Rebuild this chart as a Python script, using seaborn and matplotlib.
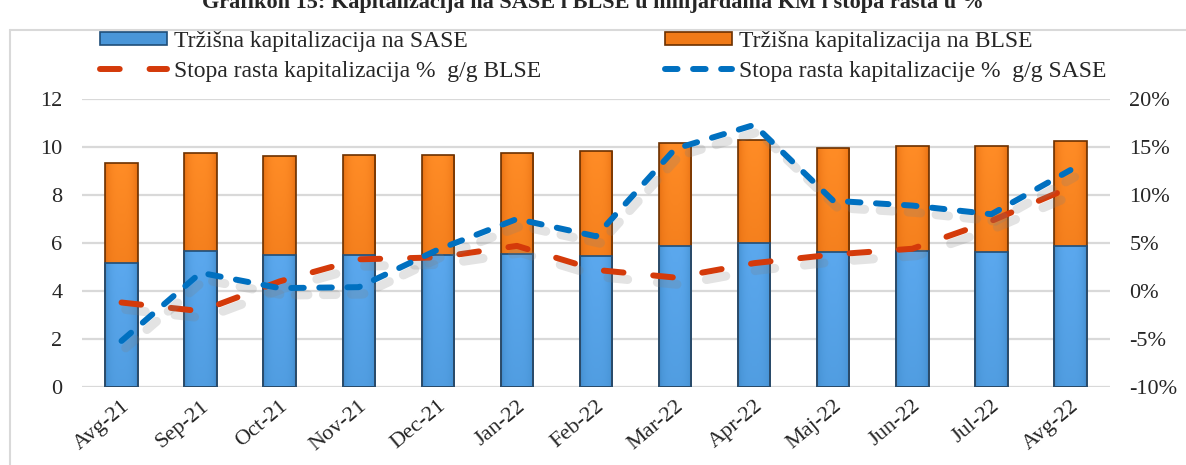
import numpy as np
import matplotlib
matplotlib.use("Agg")
import matplotlib.pyplot as plt
import matplotlib.patheffects as pe
from matplotlib.patches import Patch
from matplotlib.lines import Line2D
from matplotlib.ticker import FuncFormatter
from matplotlib.colors import LinearSegmentedColormap
import seaborn as sns

months = ["Avg-21", "Sep-21", "Oct-21", "Nov-21", "Dec-21", "Jan-22", "Feb-22",
          "Mar-22", "Apr-22", "Maj-22", "Jun-22", "Jul-22", "Avg-22"]
# trzisna kapitalizacija, milijarde KM
sase_cap = [5.18, 5.66, 5.52, 5.52, 5.49, 5.55, 5.45, 5.87, 6.01, 5.64, 5.66, 5.64, 5.87]
blse_cap = [4.15, 4.08, 4.09, 4.15, 4.18, 4.20, 4.37, 4.30, 4.27, 4.31, 4.39, 4.39, 4.39]
# stopa rasta g/g, %
blse_rate = [-1.2, -2.1, 1.0, 3.3, 3.5, 4.7, 2.2, 1.4, 2.9, 3.8, 4.4, 7.3, 10.8]
sase_rate = [-5.2, 1.9, 0.3, 0.4, 4.3, 7.5, 5.7, 14.8, 17.3, 9.4, 8.9, 8.0, 12.6]

title = "Grafikon 15: Kapitalizacija na SASE i BLSE u milijardama KM i stopa rasta u %"
lbl_sase = "Tržišna kapitalizacija na SASE"
lbl_blse = "Tržišna kapitalizacija na BLSE"
lbl_rate_blse = "Stopa rasta kapitalizacija %  g/g BLSE"
lbl_rate_sase = "Stopa rasta kapitalizacije %  g/g SASE"

BLUE, BLUE_EDGE = "#4A96D8", "#1F4E79"
ORANGE, ORANGE_EDGE = "#F07A18", "#6B3000"
RED_LINE = "#D43A0A"
BLUE_LINE = "#0070C0"
GRID = "#D9D9D9"

sns.set_theme(style="white")
plt.rcParams["font.family"] = ["Liberation Serif", "DejaVu Serif"]

W, H = 1186, 465
fig = plt.figure(figsize=(W / 100, H / 100), dpi=100)
fig.subplots_adjust(left=82 / W, right=1110 / W, bottom=1 - 387 / H, top=1 - 99 / H)
ax = fig.add_subplot(111)

totals = [s + b for s, b in zip(sase_cap, blse_cap)]
sns.barplot(x=months, y=totals, color=ORANGE, saturation=1, width=0.41,
            edgecolor=ORANGE_EDGE, linewidth=1.2, errorbar=None, ax=ax)
n_orange = len(ax.patches)
sns.barplot(x=months, y=sase_cap, color=BLUE, saturation=1, width=0.41,
            edgecolor=BLUE_EDGE, linewidth=1.2, errorbar=None, ax=ax)

# "3D" sjencenje stubaca: svjetlija sredina, tamnije ivice
blue_cmap = LinearSegmentedColormap.from_list("b", ["#2F6AA8", "#4A96D8", "#5BA8EE"])
orange_cmap = LinearSegmentedColormap.from_list("o", ["#B85A0C", "#EE7818", "#FF8C26"])
gx = 1 - np.abs(np.linspace(-1, 1, 40)) ** 3
gy = np.linspace(0.55, 1.0, 60)[:, None]
grad = 0.35 + 0.65 * gx[None, :] * gy
for i, bar in enumerate(list(ax.patches)):
    x0, y0 = bar.get_x(), bar.get_y()
    w, h = bar.get_width(), bar.get_height()
    if i < n_orange:
        y0, h = sase_cap[i], totals[i] - sase_cap[i]
        cmap = orange_cmap
    else:
        cmap = blue_cmap
    im = ax.imshow(grad, extent=[x0, x0 + w, y0, y0 + h], origin="lower",
                   aspect="auto", cmap=cmap, vmin=0, vmax=1, zorder=bar.get_zorder() + 0.5)
    im.set_clip_path(bar)
    bar.set_zorder(bar.get_zorder() + 0.6)
    bar.set_facecolor("none")

ax.set_ylim(0, 12)
ax.set_yticks(np.arange(0, 13, 2))
ax.yaxis.grid(True, color=GRID, linewidth=1.6)
ax.set_axisbelow(True)
for s in ax.spines.values():
    s.set_visible(False)
ax.set_xlabel("")
ax.set_ylabel("")
ax.tick_params(axis="y", length=0, pad=14, labelsize=16)
ax.tick_params(axis="x", length=0, pad=7, labelsize=16)
for t in ax.get_xticklabels():
    t.set_rotation(40)
    t.set_ha("right")
    t.set_rotation_mode("anchor")

ax2 = ax.twinx()
xpos = np.arange(len(months))
shadow = [pe.SimpleLineShadow(offset=(3, -5), shadow_color="#808080", alpha=0.22,
                              linewidth=6.5), pe.Normal()]
sns.lineplot(x=xpos, y=blse_rate, ax=ax2, color=RED_LINE, linewidth=4.3,
             dashes=False, path_effects=shadow)
ax2.lines[-1].set_linestyle((0, (3.3, 5.0)))
ax2.lines[-1].set_dash_capstyle("round")
sns.lineplot(x=xpos, y=sase_rate, ax=ax2, color=BLUE_LINE, linewidth=4.3,
             dashes=False, path_effects=shadow)
ax2.lines[-1].set_linestyle((0, (2.1, 2.6)))
ax2.lines[-1].set_dash_capstyle("round")

ax2.set_ylim(-10, 20)
ax2.set_yticks(np.arange(-10, 21, 5))
ax2.yaxis.set_major_formatter(FuncFormatter(lambda v, _: f"{v:.0f}%"))
ax2.tick_params(axis="y", length=0, pad=14, labelsize=16)
ax2.grid(False)
for s in ax2.spines.values():
    s.set_visible(False)
ax.set_xlim(-0.5, len(months) - 0.5)
ax.set_ylim(0, 12)

# legenda u dvije kolone
h_sase = Patch(facecolor=BLUE, edgecolor=BLUE_EDGE, linewidth=1.2)
h_blse = Patch(facecolor=ORANGE, edgecolor=ORANGE_EDGE, linewidth=1.2)
h_rb = Line2D([], [], color=RED_LINE, linewidth=4.3, linestyle=(0, (3.3, 5.0)),
              dash_capstyle="round")
h_rs = Line2D([], [], color=BLUE_LINE, linewidth=4.3, linestyle=(0, (2.1, 2.6)),
              dash_capstyle="round")
leg_kw = dict(loc="upper left", frameon=False, fontsize=17, handlelength=2.85,
              handleheight=0.5, handletextpad=0.3, labelspacing=0.38,
              borderpad=0, borderaxespad=0)
fig.legend([h_sase, h_rb], [lbl_sase, lbl_rate_blse],
           bbox_to_anchor=(100 / W, 1 - 31 / H), **leg_kw)
fig.legend([h_blse, h_rs], [lbl_blse, lbl_rate_sase],
           bbox_to_anchor=(665 / W, 1 - 31 / H), **leg_kw)

# okvir grafikona i odsjeceni naslov
fig.add_artist(Line2D([10 / W, 10 / W], [0, 1 - 30 / H], color=GRID, linewidth=1.5,
                      transform=fig.transFigure))
fig.add_artist(Line2D([10 / W, 1], [1 - 30 / H, 1 - 30 / H], color=GRID, linewidth=1.5,
                      transform=fig.transFigure))
fig.text(593 / W, 1 - 8 / H, title, ha="center", va="baseline", fontsize=16,
         fontweight="bold")

fig.savefig("out.png", dpi=100)
